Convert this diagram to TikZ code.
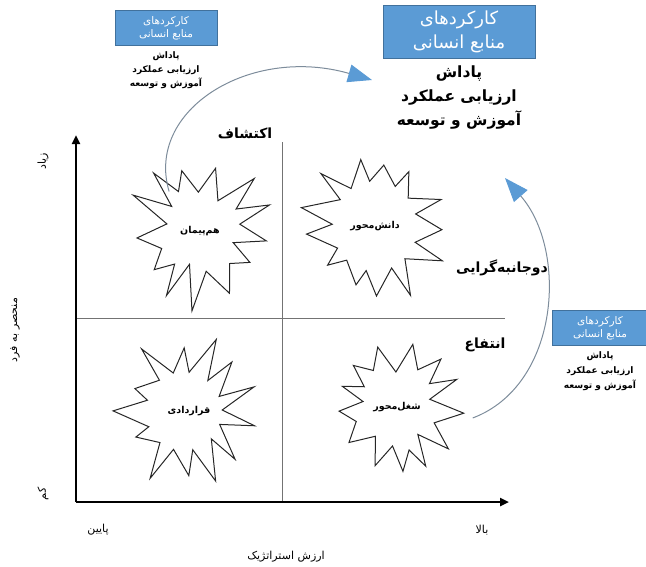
\documentclass[tikz,border=0pt]{standalone}
\usepackage{fontspec}
\newfontfamily\fa[Script=Arabic]{DejaVu Sans}
\TeXXeTstate=1
\usetikzlibrary{arrows.meta,positioning}
\definecolor{hrblue}{RGB}{91,155,213}
\definecolor{hredge}{RGB}{65,113,156}
\definecolor{curvegray}{RGB}{125,140,155}
\newcommand{\rl}[1]{\beginR#1\endR}
% spiky outline round a star node: #1 node, #2 turn, #3 jitter
\newcommand{\spikes}[3]{%
  \draw[burstline, shift={(#1.center)}]
    plot[samples at={0,...,25}, variable=\k]
    ({sr(\k,#3)*cos(sa(\k,#2,#3))},{1.06*sr(\k,#3)*sin(sa(\k,#2,#3))}) -- cycle;}
\tikzset{
  declare function={
    sr(\k,\s)=ifthenelse(mod(\k,2)==0,67+9*sin(\k*\s),38+5*cos(\k*\s*1.7));
    sa(\k,\r,\s)=\r+\k*360/26+5*sin(\k*\s*2.3);},
  burstcore/.style={circle, minimum size=100pt, inner sep=0pt,
    font=\fa\bfseries\fontsize{9.5}{12}\selectfont},
  burstline/.style={draw=black!85, line width=1pt, line join=miter},
  quad/.style={font=\fa\bfseries\fontsize{14}{16}\selectfont},
  hrbox/.style={fill=hrblue, draw=hredge, text=white, align=center, inner sep=2pt},
  hrlist/.style={align=center, inner sep=1pt},
  axislabel/.style={font=\fa\fontsize{11}{13}\selectfont},
  axis/.style={line width=2.6pt, -{Triangle[length=9pt,width=8pt]}},
  divider/.style={draw=black!55, line width=0.8pt},
  hrarrow/.style={draw=curvegray, line width=1pt,
    -{Triangle[length=24pt,width=18pt,color=hrblue]}}
}
\begin{document}
\begin{tikzpicture}[x=1pt,y=-1pt]
\useasboundingbox (0,0) rectangle (646,566);
% axes and quadrants
\coordinate (O) at (76,502);
\coordinate (ytop) at (76,135);
\coordinate (xend) at (509,502);
\coordinate (vtop) at (282,142);
\coordinate (vbot) at (282,502);
\coordinate (hleft) at (76,318);
\coordinate (hright) at (505,318);
\draw[divider] (vtop) -- (vbot);
\draw[divider] (hleft) -- (hright);
\draw[axis] (O) -- (ytop);
\draw[axis] (O) -- (xend);
% stars
\node[burstcore] (hampeyman) at (200,231) {\rl{هم‌پیمان}};
\node[burstcore] (daneshmehvar) at (375,226) {\rl{دانش‌محور}};
\node[burstcore] (gharardadi) at (189,411) {\rl{قراردادی}};
\node[burstcore] (shoghlmehvar) at (397,407) {\rl{شغل‌محور}};
\spikes{hampeyman}{8}{137}
\spikes{daneshmehvar}{3}{211}
\spikes{gharardadi}{12}{97}
\spikes{shoghlmehvar}{5}{173}
% quadrant names
\node[quad] (ekteshaf) at (245,133) {\rl{اکتشاف}};
\node[quad] (dojanebe) at (502,268) {\rl{دوجانبه‌گرایی}};
\node[quad] (entefa) at (485,345) {\rl{انتفاع}};
% hr functions
\node[hrbox, minimum width=152pt, minimum height=53pt,
      font=\fa\fontsize{18}{24}\selectfont] (bigbox) at (459,32)
  {\rl{کارکردهای}\\\rl{منابع انسانی}};
\node[hrlist, below=6pt of bigbox, font=\fa\bfseries\fontsize{15.5}{24}\selectfont] (biglist)
  {\rl{پاداش}\\\rl{ارزیابی عملکرد}\\\rl{آموزش و توسعه}};
\node[hrbox, minimum width=102pt, minimum height=35pt,
      font=\fa\fontsize{10.5}{13}\selectfont] (boxleft) at (166,28)
  {\rl{کارکردهای}\\\rl{منابع انسانی}};
\node[hrlist, below=5pt of boxleft, font=\fa\bfseries\fontsize{9}{14}\selectfont] (listleft)
  {\rl{پاداش}\\\rl{ارزیابی عملکرد}\\\rl{آموزش و توسعه}};
\node[hrbox, minimum width=96pt, minimum height=35pt,
      font=\fa\fontsize{10.5}{13}\selectfont] (boxright) at (600,328)
  {\rl{کارکردهای}\\\rl{منابع انسانی}};
\node[hrlist, below=5pt of boxright, font=\fa\bfseries\fontsize{9}{15}\selectfont] (listright)
  {\rl{پاداش}\\\rl{ارزیابی عملکرد}\\\rl{آموزش و توسعه}};
% curved arrows
\coordinate (tipA) at (372,80);
\coordinate (tipB) at (505,178);
\draw[hrarrow] (hampeyman.128) .. controls (145,110) and (250,45) .. (tipA);
\draw[hrarrow] ([shift={(26,4)}]shoghlmehvar.-8) .. controls (560,385) and (568,250) .. (tipB);
% axis labels
\node[axislabel, rotate=90] (ziad) at (43,161) {\rl{زیاد}};
\node[axislabel, rotate=90] (monhaser) at (15,330) {\rl{منحصر به فرد}};
\node[axislabel, rotate=90] (kam) at (43,494) {\rl{کم}};
\node[axislabel] (payin) at (98,530) {\rl{پایین}};
\node[axislabel] (bala) at (482,530) {\rl{بالا}};
\node[axislabel] (arzesh) at (286,557) {\rl{ارزش استراتژیک}};
\end{tikzpicture}
\end{document}
